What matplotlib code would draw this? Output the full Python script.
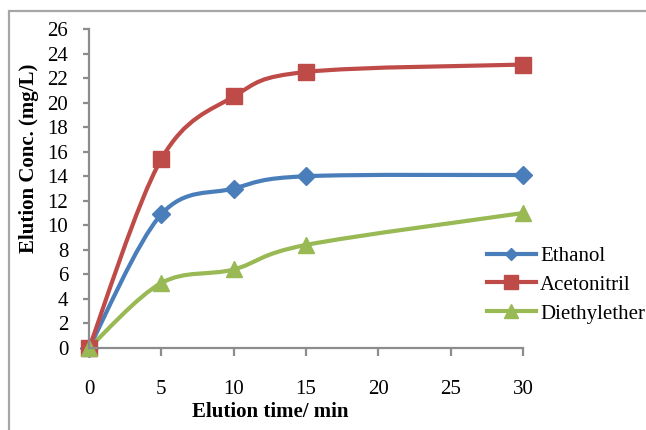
import numpy as np
import matplotlib
matplotlib.use("Agg")
import matplotlib.pyplot as plt
from matplotlib.path import Path
from matplotlib.patches import PathPatch, Rectangle
from matplotlib.lines import Line2D

# data
time_min = [0, 5, 10, 15, 30]
ethanol = [0, 10.9, 13.0, 14.0, 14.1]
acetonitril = [0, 15.4, 20.5, 22.5, 23.1]
diethylether = [0, 5.3, 6.4, 8.4, 11.0]

series_names = ["Ethanol", "Acetonitril", "Diethylether"]
series_values = [ethanol, acetonitril, diethylether]
series_colors = ["#4A7EBB", "#BE4B48", "#98B954"]
series_markers = ["D", "s", "^"]
marker_sizes = [9.5, 12, 12]
legend_marker_sizes = [6, 10.5, 10.5]

x_ticks = [0, 5, 10, 15, 20, 25, 30]
y_ticks = list(range(0, 27, 2))

plt.rcParams['font.family'] = ['Liberation Serif', 'DejaVu Serif']


def smooth_path(xs, ys):
    # Excel-like smoothed line: cubic bezier through the points
    pts = np.column_stack([xs, ys]).astype(float)
    n = len(pts)
    verts = [pts[0]]
    codes = [Path.MOVETO]
    for i in range(n - 1):
        p0 = pts[max(i - 1, 0)]
        p1 = pts[i]
        p2 = pts[i + 1]
        p3 = pts[min(i + 2, n - 1)]
        c1 = p1 + (p2 - p0) / 6.0
        c2 = p2 - (p3 - p1) / 6.0
        verts += [c1, c2, p2]
        codes += [Path.CURVE4] * 3
    return Path(verts, codes)


fig = plt.figure(figsize=(6.46, 4.30), dpi=100)
ax = fig.add_axes([89 / 646, 1 - 348 / 430, (523 - 89) / 646, (348 - 29) / 430])

for name, vals, col, mk, ms in zip(series_names, series_values, series_colors,
                                   series_markers, marker_sizes):
    patch = PathPatch(smooth_path(time_min, vals), facecolor='none',
                      edgecolor=col, lw=3, capstyle='round', joinstyle='round')
    ax.add_patch(patch)
    ax.plot(time_min, vals, linestyle='none', marker=mk, markersize=ms,
            color=col, clip_on=False)

ax.set_xlim(0, 30)
ax.set_ylim(0, 26)
ax.set_xticks(x_ticks)
ax.set_yticks(y_ticks)

for side in ['top', 'right']:
    ax.spines[side].set_visible(False)
for side in ['left', 'bottom']:
    ax.spines[side].set_color('#8C8C8C')
    ax.spines[side].set_linewidth(1.6)

ax.tick_params(axis='y', direction='out', length=4, width=1.6, color='#8C8C8C',
               labelsize=15, pad=11)
ax.tick_params(axis='x', direction='out', length=6, width=1.6, color='#8C8C8C',
               labelsize=15, pad=17)

fig.text(270 / 646, 1 - 412 / 430, "Elution time/ min", ha='center', va='center',
         fontsize=15, fontweight='bold')
fig.text(29 / 646, 1 - 158 / 430, "Elution Conc. (mg/L)", ha='center', va='center',
         rotation=90, fontsize=15, fontweight='bold')

handles = [Line2D([0], [0], color=c, lw=3, marker=m, markersize=s)
           for c, m, s in zip(series_colors, series_markers, legend_marker_sizes)]
fig.legend(handles, series_names, loc='center left',
           bbox_to_anchor=(487 / 646, 1 - 285 / 430), frameon=False,
           fontsize=15, handlelength=2.35, handletextpad=0.2,
           labelspacing=0.45, borderpad=0, borderaxespad=0)

# outer chart border (cut off at right and bottom like the reference)
fig.patches.append(Rectangle((9 / 646, -0.2), 1.2, 1.2 - 10.5 / 430,
                             transform=fig.transFigure, fill=False,
                             edgecolor='#A6A6A6', lw=1.6))

fig.savefig("out.png", dpi=100)
